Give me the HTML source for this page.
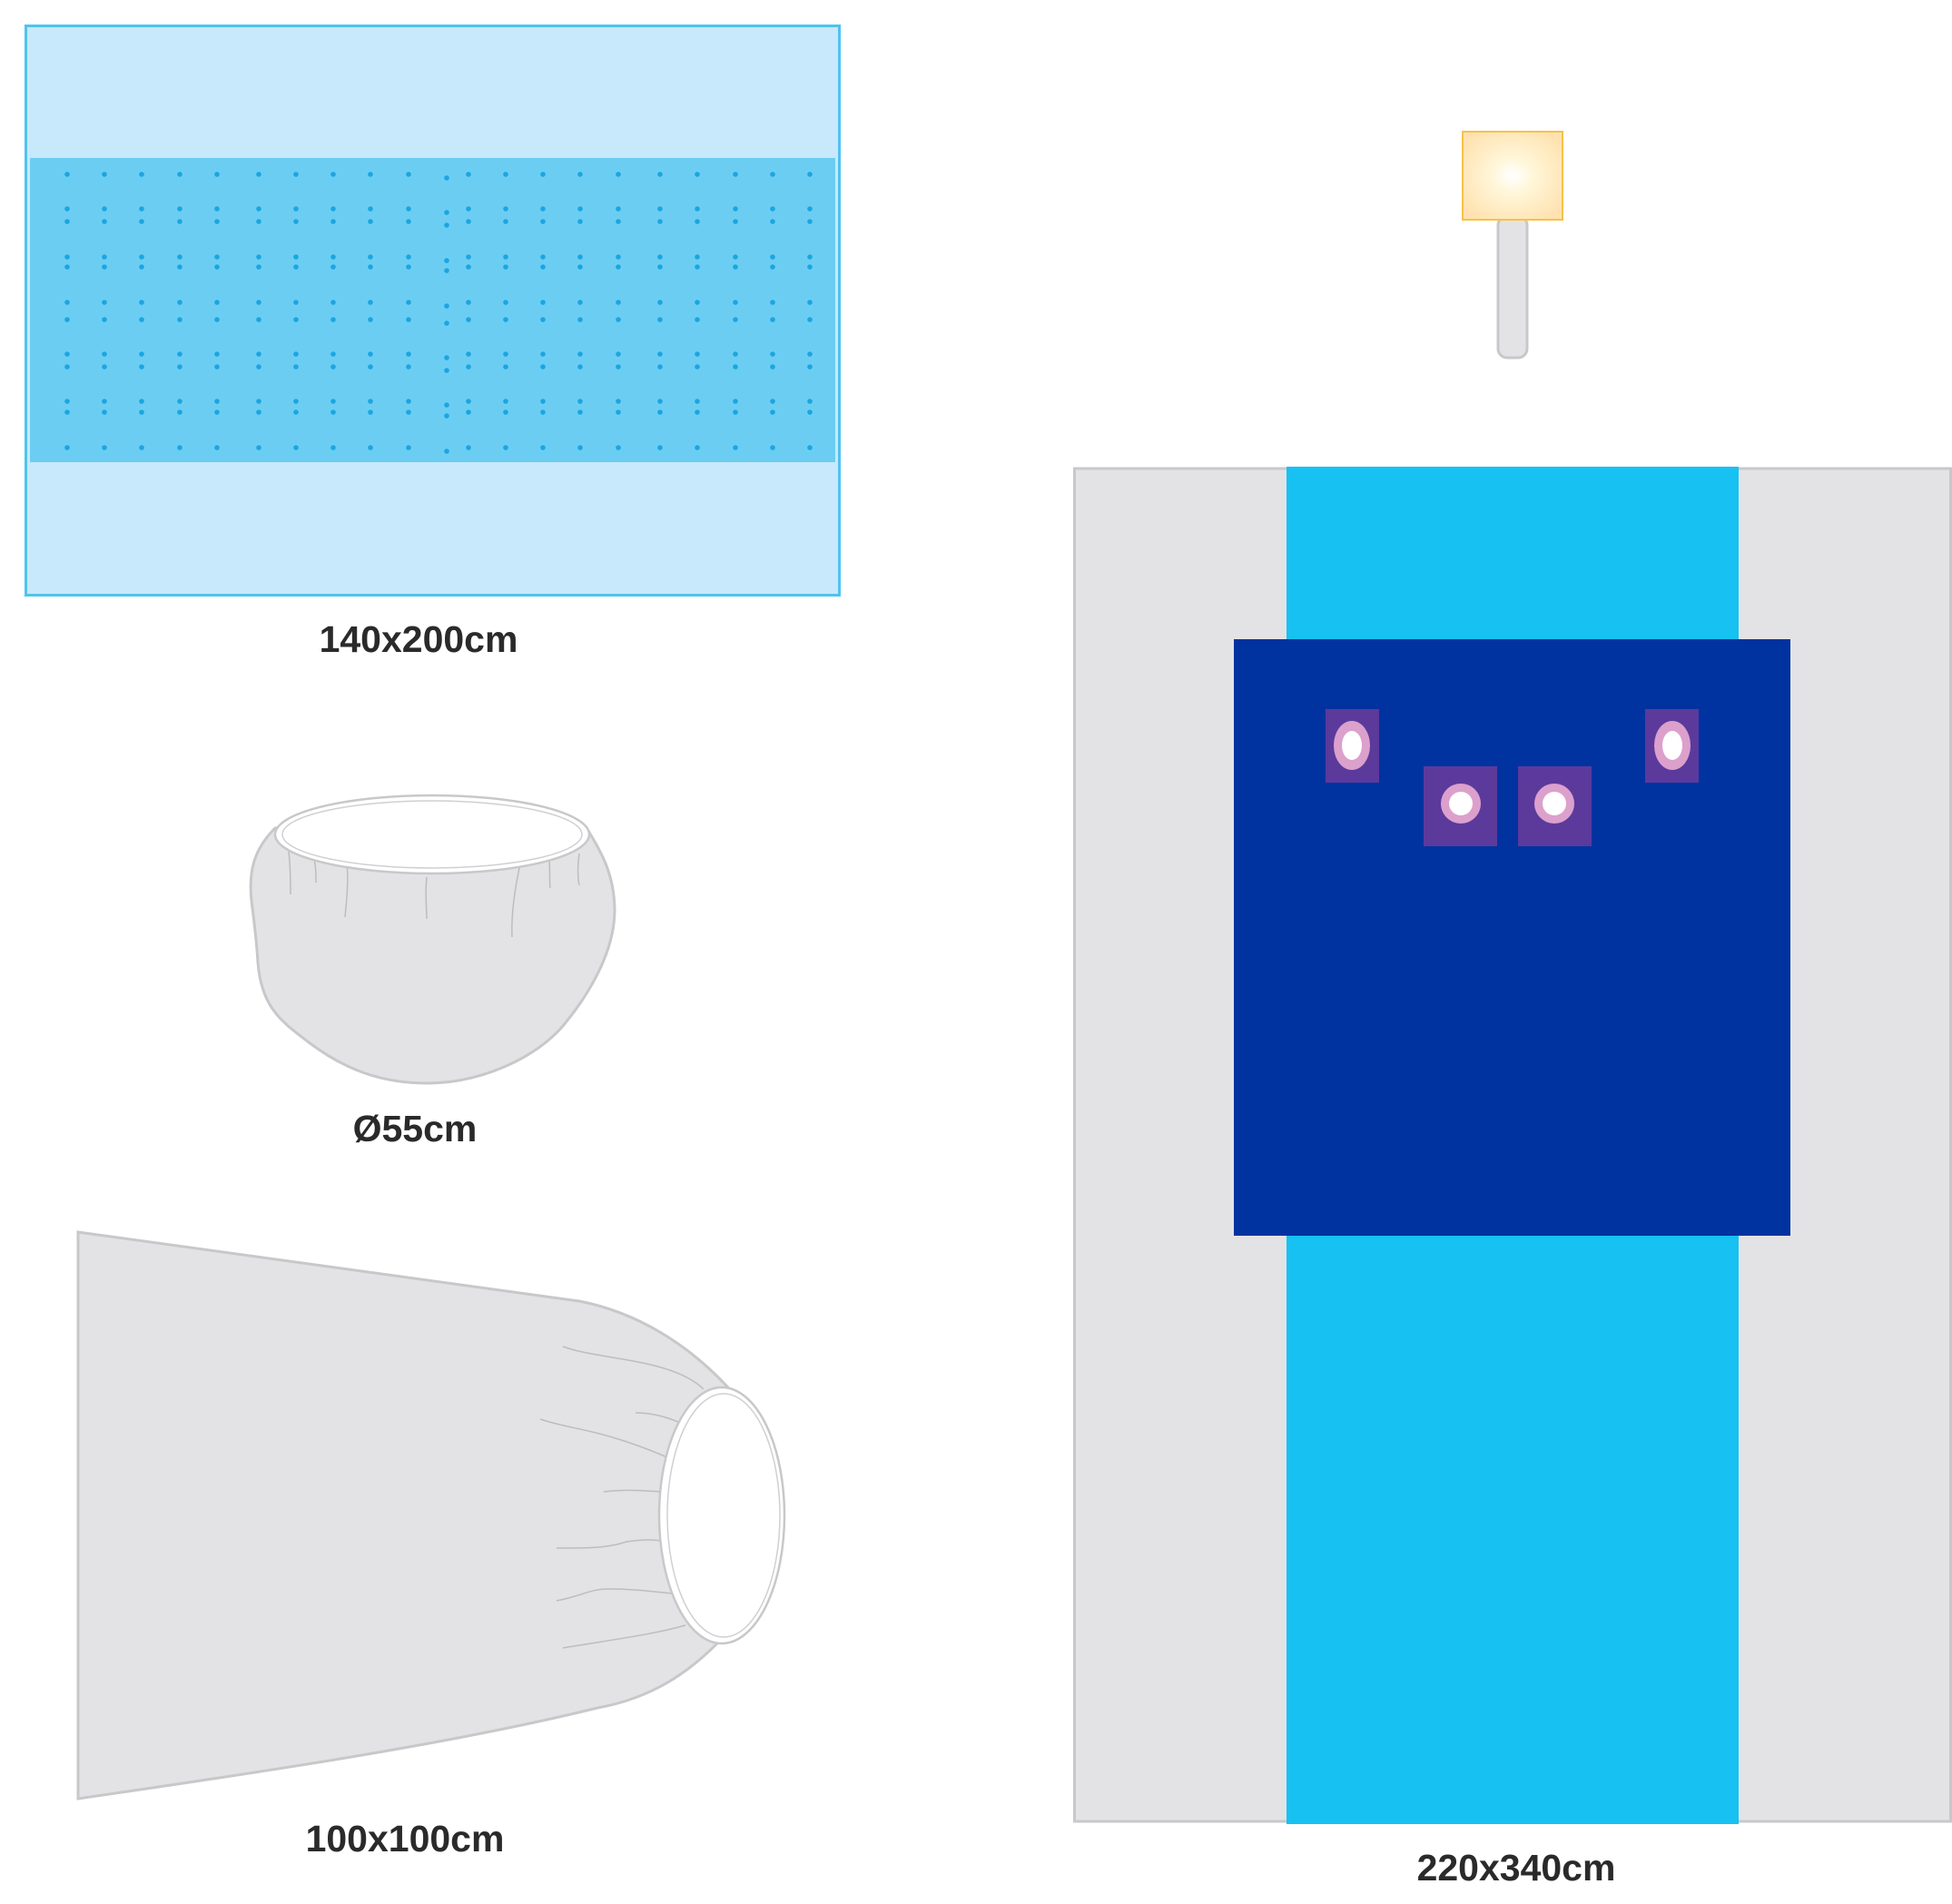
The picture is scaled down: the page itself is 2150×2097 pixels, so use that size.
<!DOCTYPE html>
<html><head><meta charset="utf-8"><style>
html,body{margin:0;padding:0;background:#fff}
svg{display:block}
text{font-family:"Liberation Sans",sans-serif;font-weight:bold;fill:#2a2a2a;font-size:41px;text-anchor:middle}
</style></head><body>
<svg width="2150" height="2097" viewBox="0 0 2150 2097" xmlns="http://www.w3.org/2000/svg">
<defs>
<radialGradient id="lg" cx="0.5" cy="0.5" r="0.6">
<stop offset="0" stop-color="#ffffff"/><stop offset="0.35" stop-color="#fff6d8"/><stop offset="1" stop-color="#ffe2b0"/>
</radialGradient>
<g id="col" fill="#1aa6e0">
<circle cx="0" cy="192" r="2.8"/><circle cx="0" cy="230" r="2.8"/><circle cx="0" cy="244" r="2.8"/>
<circle cx="0" cy="283" r="2.8"/><circle cx="0" cy="294" r="2.8"/><circle cx="0" cy="333" r="2.8"/>
<circle cx="0" cy="352" r="2.8"/><circle cx="0" cy="390" r="2.8"/><circle cx="0" cy="404" r="2.8"/>
<circle cx="0" cy="442" r="2.8"/><circle cx="0" cy="454" r="2.8"/><circle cx="0" cy="493" r="2.8"/>
</g>
</defs>
<rect x="28.5" y="28.5" width="896" height="627" fill="#c7e9fb" stroke="#4fc3ee" stroke-width="3"/>
<rect x="33" y="174" width="887" height="335" fill="#6ccdf3"/>
<use href="#col" x="74"/><use href="#col" x="115"/><use href="#col" x="156"/><use href="#col" x="198"/>
<use href="#col" x="239"/><use href="#col" x="285"/><use href="#col" x="326"/><use href="#col" x="367"/>
<use href="#col" x="408"/><use href="#col" x="450"/><use href="#col" x="492" y="4"/><use href="#col" x="516"/>
<use href="#col" x="557"/><use href="#col" x="598"/><use href="#col" x="639"/><use href="#col" x="681"/>
<use href="#col" x="727"/><use href="#col" x="768"/><use href="#col" x="810"/><use href="#col" x="851"/>
<use href="#col" x="892"/>
<text x="461" y="718">140x200cm</text>

<path d="M303 912 C280 935 272 960 278 1000 C283 1040 283 1045 284 1060 C288 1110 310 1125 340 1148 C380 1178 420 1193 470 1193 C530 1193 590 1165 620 1130 C645 1100 678 1050 677 1000 C676 960 660 935 648 915 Z" fill="#e3e3e6" stroke="#c8c8ca" stroke-width="3"/>
<g fill="none" stroke="#bdbdc0" stroke-width="1.5">
<path d="M318 938 C320 955 320 970 320 985"/><path d="M346 946 C348 955 348 962 348 972"/>
<path d="M382 950 C384 970 382 990 380 1010"/><path d="M470 966 C468 985 470 1000 470 1012"/>
<path d="M572 956 C566 985 563 1010 564 1032"/><path d="M605 948 C606 960 605 970 606 978"/>
<path d="M638 940 C636 955 636 965 638 975"/>
</g>
<ellipse cx="476" cy="919" rx="173" ry="43" fill="#fff" stroke="#c8c8ca" stroke-width="2.5"/>
<ellipse cx="476" cy="919" rx="165" ry="37" fill="none" stroke="#d0d0d2" stroke-width="1.5"/>
<text x="457" y="1257">Ø55cm</text>

<path d="M86 1357 L638 1433 C700 1445 760 1480 809 1536 L790 1810 C760 1840 720 1870 658 1881 C500 1920 300 1950 86 1981 Z" fill="#e3e3e6" stroke="#c8c8ca" stroke-width="3"/>
<g fill="none" stroke="#bdbdc0" stroke-width="1.5">
<path d="M620 1483 C660 1498 740 1496 775 1530"/>
<path d="M700 1556 C720 1556 740 1562 755 1570"/>
<path d="M595 1563 C630 1575 660 1573 735 1605"/>
<path d="M665 1643 C690 1640 710 1642 730 1643"/>
<path d="M613 1705 C650 1705 670 1705 690 1698 C710 1695 720 1696 730 1697"/>
<path d="M613 1763 C640 1758 650 1750 670 1750 C700 1750 720 1753 740 1755"/>
<path d="M620 1815 C680 1805 720 1800 755 1790"/>
</g>
<ellipse cx="795" cy="1669" rx="69" ry="141" fill="#fff" stroke="#c8c8ca" stroke-width="2.5"/>
<ellipse cx="797" cy="1669" rx="62" ry="134" fill="none" stroke="#d0d0d2" stroke-width="1.5"/>
<text x="446" y="2039">100x100cm</text>

<rect x="1650" y="238" width="32" height="156" rx="10" fill="#e3e3e6" stroke="#c8c8ca" stroke-width="3"/>
<rect x="1611" y="145" width="110" height="97" fill="url(#lg)" stroke="#f5c24a" stroke-width="2"/>

<rect x="1183.5" y="516" width="965" height="1490" fill="#e3e3e6" stroke="#c8c8ca" stroke-width="3"/>
<rect x="1417" y="514" width="498" height="1495" fill="#17c1f2"/>
<rect x="1359" y="704" width="613" height="657" fill="#0033a0"/>
<rect x="1460" y="781" width="59" height="81" fill="#5b3a9c"/>
<rect x="1568" y="844" width="81" height="88" fill="#5b3a9c"/>
<rect x="1672" y="844" width="81" height="88" fill="#5b3a9c"/>
<rect x="1812" y="781" width="59" height="81" fill="#5b3a9c"/>
<g fill="#dca0cc"><ellipse cx="1489" cy="821" rx="20" ry="27"/><ellipse cx="1842" cy="821" rx="20" ry="27"/>
<circle cx="1609" cy="885" r="22"/><circle cx="1712" cy="885" r="22"/></g>
<g fill="#fff"><ellipse cx="1489" cy="821" rx="11" ry="16"/><ellipse cx="1842" cy="821" rx="11" ry="16"/>
<circle cx="1609" cy="885" r="13"/><circle cx="1712" cy="885" r="13"/></g>
<text x="1670" y="2071">220x340cm</text>
</svg>
</body></html>
